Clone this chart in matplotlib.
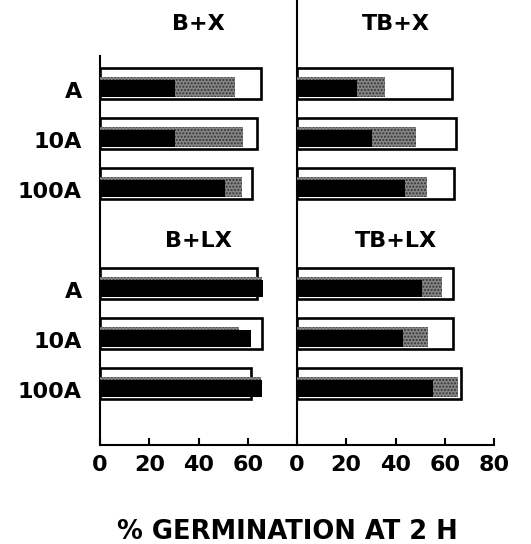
import numpy as np
import matplotlib.pyplot as plt

plt.rcParams['font.family'] = 'DejaVu Sans'
plt.rcParams['font.weight'] = 'bold'

rows = ['A', '10A', '100A']
titles_left = ['B+X', 'B+LX']
titles_right = ['TB+X', 'TB+LX']
xticks_left = [0, 20, 40, 60]
xticks_right = [0, 20, 40, 60, 80]

# top group (X), rows A, 10A, 100A
white_BX = [65.3, 63.6, 61.6]
gray_BX = [54.8, 58.0, 57.5]
black_BX = [30.5, 30.5, 50.8]

white_TBX = [62.8, 64.6, 63.8]
gray_TBX = [35.7, 48.2, 52.7]
black_TBX = [24.2, 30.3, 43.9]

# bottom group (LX)
white_BLX = [63.6, 65.7, 61.3]
gray_BLX = [65.8, 56.4, 65.4]
black_BLX = [66.1, 61.3, 65.7]

white_TBLX = [63.3, 63.3, 66.5]
gray_TBLX = [58.8, 53.3, 65.4]
black_TBLX = [50.6, 43.0, 55.2]

pos = np.array([0, 1, 2, 4, 5, 6])

fig = plt.figure(figsize=(5.31, 5.44), dpi=100)
axL = fig.add_axes([100/531, 99/544, 197/531, 445/544])
axR = fig.add_axes([297/531, 99/544, 197/531, 445/544])


def draw_panel(ax, white, gray, black, titles, xticks):
    ax.barh(pos, white, height=0.62, color='white', edgecolor='black', linewidth=1.9, zorder=2)
    ax.barh(pos + 0.07, gray, height=0.40, color='#858585', edgecolor='#333333',
            hatch='.....', linewidth=0, zorder=3)
    ax.barh(pos + 0.10, black, height=0.35, color='black', linewidth=0, zorder=4)
    ax.set_xlim(0, 80)
    ax.set_ylim(7.23, -1.67)
    ax.spines['top'].set_visible(False)
    ax.spines['right'].set_visible(False)
    ax.spines['left'].set_linewidth(1.5)
    ax.spines['bottom'].set_linewidth(1.5)
    ax.set_xticks(xticks)
    ax.tick_params(axis='x', direction='in', length=5, width=1.5, pad=7, labelsize=16)
    ax.text(40, -1.19, titles[0], ha='center', va='center', fontsize=16)
    ax.text(40, 3.15, titles[1], ha='center', va='center', fontsize=16)


draw_panel(axL, white_BX + white_BLX, gray_BX + gray_BLX, black_BX + black_BLX,
           titles_left, xticks_left)
draw_panel(axR, white_TBX + white_TBLX, gray_TBX + gray_TBLX, black_TBX + black_TBLX,
           titles_right, xticks_right)

axL.spines['left'].set_bounds(-0.55, 7.23)
axL.set_yticks(pos + 0.13)
axL.set_yticklabels(rows + rows)
axL.tick_params(axis='y', length=0, pad=13, labelsize=16)
axR.set_yticks([])

fig.text(287/531, 1 - 532/544, '% GERMINATION AT 2 H', ha='center', va='center',
         fontsize=18.5, fontweight='bold')

fig.savefig('out.png', dpi=100)
